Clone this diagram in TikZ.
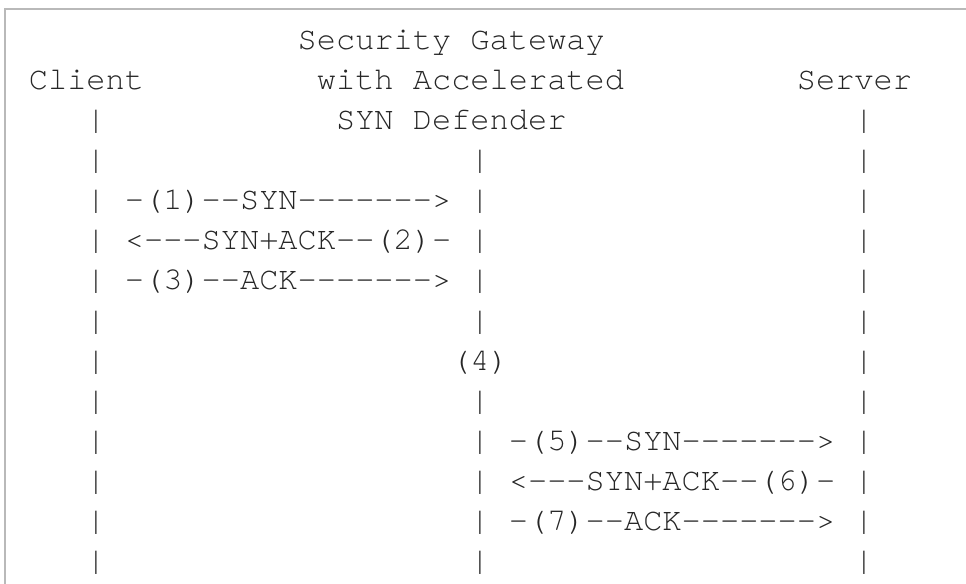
\documentclass[tikz,border=0pt]{standalone}
\usepackage{fontspec}
\setmonofont{TeX Gyre Cursor}

\tikzset{
  ascii/.style={font=\ttfamily\fontsize{24}{28}\selectfont, anchor=base west, inner sep=0pt, text=black!85},
  frame/.style={draw=gray!55, line width=1.5pt}
}

\begin{document}
\begin{tikzpicture}
  \useasboundingbox (0,0) rectangle (724.5pt,-438pt);
  % Frame (only top and left edge show)
  \draw[frame] (3.75pt,-438pt) -- (3.75pt,-6.75pt) -- (724.5pt,-6.75pt);

  % one unit = one character column / one text row
  \begin{scope}[x=14.4pt, y=-30pt, shift={(7.05pt,-37.5pt)}]
    % Titles
    \node[ascii] (gwtitle) at (15,0) {Security Gateway};
    \node[ascii] (client) at (1,1) {Client};
    \node[ascii] (gwaccel) at (16,1) {with Accelerated};
    \node[ascii] (server) at (41,1) {Server};
    \node[ascii] (gwsyn) at (17,2) {SYN Defender};

    % Client and server lifelines
    \foreach \r in {2,...,13} {
      \node[ascii] (cl\r) at (4,\r) {|};
      \node[ascii] (sv\r) at (44,\r) {|};
    }
    % Gateway lifeline
    \foreach \r in {3,4,5,6,7,9,10,11,12,13}
      \node[ascii] (gw\r) at (24,\r) {|};
    \node[ascii] (step4) at (23,8) {(4)};

    % Client <-> gateway
    \node[ascii] (msg1) at (6,4) {-(1)--SYN------->};
    \node[ascii] (msg2) at (6,5) {<---SYN+ACK--(2)-};
    \node[ascii] (msg3) at (6,6) {-(3)--ACK------->};

    % Gateway <-> server
    \node[ascii] (msg5) at (26,10) {-(5)--SYN------->};
    \node[ascii] (msg6) at (26,11) {<---SYN+ACK--(6)-};
    \node[ascii] (msg7) at (26,12) {-(7)--ACK------->};
  \end{scope}
\end{tikzpicture}
\end{document}
